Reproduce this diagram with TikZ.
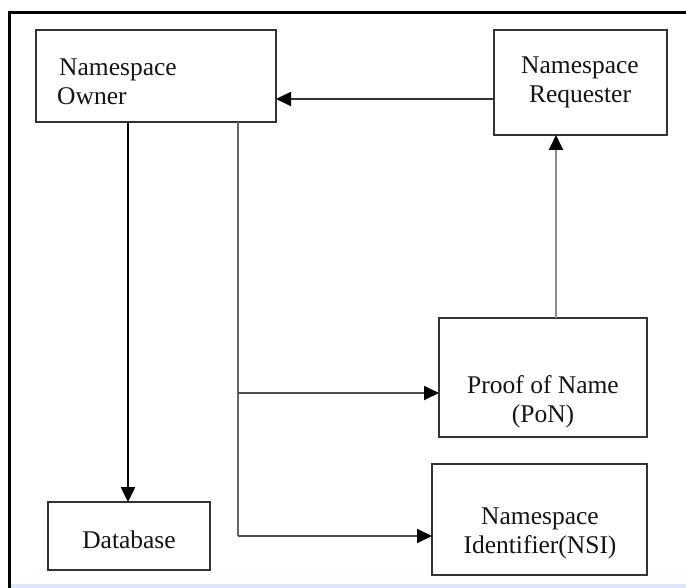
\documentclass[tikz,border=0pt]{standalone}
\usepackage{fontspec}
\setmainfont{Liberation Serif}
\usetikzlibrary{arrows.meta}
\definecolor{edgegray}{HTML}{333333}
\definecolor{paleline}{HTML}{DCE8F6}
\tikzset{
  block/.style={draw=edgegray, line width=2.2pt, rectangle, inner sep=0pt, outer sep=0pt, anchor=north west},
  lbl/.style={inner sep=0pt, font=\fontsize{25.5}{29}\selectfont, text=black!92, align=center},
  link/.style={line width=2pt, draw=edgegray, -{Triangle[length=15pt,width=14pt,color=black]}},
  plain/.style={line width=2pt, draw=edgegray}
}
\begin{document}
\begin{tikzpicture}[x=1pt,y=-1pt]
  \useasboundingbox (0,0) rectangle (686,588);
  \fill[white] (0,0) rectangle (686,588);

  % frame
  \fill[paleline] (9,584) rectangle (686,588);
  \draw[line width=3pt, black] (9,588) -- (9,13) -- (686,13);

  % boxes
  \node[block, minimum width=240pt, minimum height=92pt] (owner) at (36,30) {};
  \node[block, minimum width=173pt, minimum height=105pt] (req) at (494,30) {};
  \node[block, minimum width=208pt, minimum height=119pt] (pon) at (439,318) {};
  \node[block, minimum width=215pt, minimum height=111pt] (nsi) at (432,464) {};
  \node[block, minimum width=162pt, minimum height=68pt] (db) at (48,502) {};

  % labels
  \node[lbl, anchor=west, align=left] (ownerlbl) at (57,82) {\hspace{2pt}Namespace\\Owner};
  \node[lbl] (reqlbl) at (580,82) {Namespace\\Requester};
  \node[lbl] (ponlbl) at (543,402) {Proof of Name\\(PoN)};
  \node[lbl] (nsilbl) at (540,533) {Namespace\\Identifier(NSI)};
  \node[lbl] (dblbl) at (129,540) {Database};

  % connectors
  \coordinate (ownA) at ([xshift=92pt]owner.south west);
  \coordinate (ownB) at ([xshift=202pt]owner.south west);
  \coordinate (split) at (ownB |- 0,393);
  \coordinate (bend) at (ownB |- 0,536);

  \draw[link, line width=2.5pt, draw=black] (ownA) -- (ownA |- db.north);
  \draw[plain, draw=black!60] (ownB) -- (bend);
  \draw[link, draw=black!70] (bend) -- (bend -| nsi.west);
  \draw[link, draw=black!70] (split) -- (split -| pon.west);
  \draw[link, draw=black!45] ([xshift=117pt]pon.north west) -- ([xshift=117pt]pon.north west |- req.south);
  \draw[link, draw=black!80] (req.west |- 0,99) -- (owner.east |- 0,99);
\end{tikzpicture}
\end{document}
